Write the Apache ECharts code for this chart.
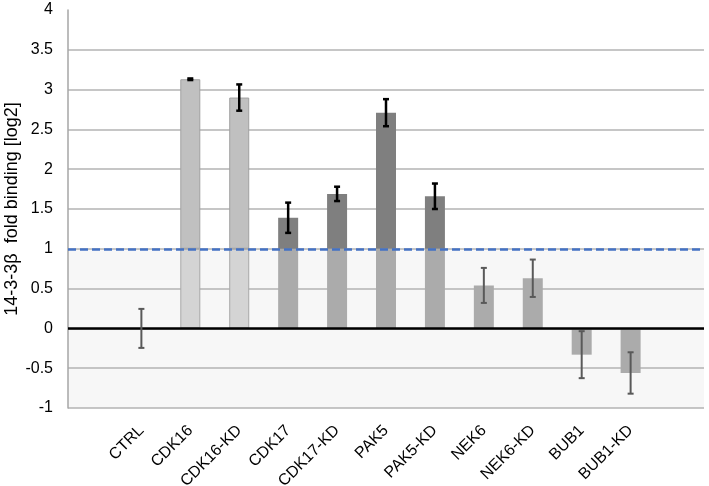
<!DOCTYPE html>
<html>
<head>
<meta charset="utf-8">
<script src="https://cdn.jsdelivr.net/npm/echarts@6/dist/echarts.min.js"></script>
<style>
html,body{margin:0;padding:0;background:#fff;}
#chart{width:709px;height:486px;}
</style>
</head>
<body>
<div id="chart"></div>
<script>
// ---- data ----
var categories = ['', 'CTRL', 'CDK16', 'CDK16-KD', 'CDK17', 'CDK17-KD', 'PAK5', 'PAK5-KD', 'NEK6', 'NEK6-KD', 'BUB1', 'BUB1-KD', ''];
var values = [null, 0, 3.13, 2.90, 1.39, 1.69, 2.71, 1.66, 0.54, 0.63, -0.33, -0.56, null];
var errors = [null, 0.245, 0.01, 0.165, 0.19, 0.09, 0.17, 0.16, 0.22, 0.235, 0.295, 0.26, null];
var threshold = 1;
var yTicks = [-1, -0.5, 0, 0.5, 1, 1.5, 2, 2.5, 3, 3.5, 4];

// ---- derived ----
var lightSet = {'CDK16': true, 'CDK16-KD': true};
var lowerPart = values.map(function (v) { return v == null ? null : (v > threshold ? threshold : v); });
var upperPart = values.map(function (v) { return v == null ? null : (v > threshold ? v - threshold : 0); });

function lowerItem(v, i) {
  if (v == null) return null;
  var light = lightSet[categories[i]];
  return { value: v, itemStyle: light ? { color: '#d4d4d4', borderColor: '#a8a8a8', borderWidth: 1 } : { color: '#ababab' } };
}
function upperItem(v, i) {
  if (v == null) return null;
  var light = lightSet[categories[i]];
  return { value: v, itemStyle: light ? { color: '#c0c0c0', borderColor: '#a0a0a0', borderWidth: 1 } : { color: '#7f7f7f' } };
}

var errData = [];
values.forEach(function (v, i) {
  if (v == null || errors[i] == null) return;
  errData.push([i, v - errors[i], v + errors[i], v > threshold ? 1 : 0]);
});

var chart = echarts.init(document.getElementById('chart'), null, { renderer: 'canvas' });

var splitLineColors = yTicks.map(function (t) { return t === 4 ? 'rgba(0,0,0,0)' : '#b3b3b3'; });
var splitAreaColors = yTicks.slice(0, -1).map(function (t) { return t < threshold ? '#f7f7f7' : '#ffffff'; });

var option = {
  animation: false,
  backgroundColor: '#ffffff',
  grid: { left: 68, right: 5, top: 10, bottom: 78, containLabel: false, outerBoundsMode: 'none' },
  xAxis: {
    type: 'category',
    data: categories,
    boundaryGap: true,
    axisLine: { show: false },
    axisTick: { show: false },
    axisLabel: {
      rotate: 45,
      interval: 0,
      margin: 20,
      color: '#000',
      fontFamily: 'Liberation Sans, Arial, sans-serif',
      fontSize: 16
    },
    splitLine: { show: false }
  },
  yAxis: {
    type: 'value',
    min: -1,
    max: 4,
    interval: 0.5,
    name: '14-3-3\u03B2  fold binding [log2]',
    nameLocation: 'middle',
    nameGap: 47,
    nameMoveOverlap: false,
    nameTextStyle: { fontFamily: 'Liberation Sans, Arial, sans-serif', fontSize: 18, color: '#000' },
    axisLine: { show: true, lineStyle: { color: '#a6a6a6', width: 1.5 } },
    axisTick: { show: false },
    axisLabel: {
      margin: 15,
      color: '#000',
      fontFamily: 'Liberation Sans, Arial, sans-serif',
      fontSize: 16
    },
    splitLine: { show: true, lineStyle: { color: splitLineColors, width: 1.5 } },
    splitArea: { show: true, areaStyle: { color: splitAreaColors } }
  },
  series: [
    {
      type: 'bar',
      name: 'lower',
      stack: 'v',
      barWidth: 20,
      data: lowerPart.map(lowerItem),
      markLine: {
        silent: true,
        symbol: 'none',
        label: { show: false },
        data: [
          { yAxis: 0, lineStyle: { color: '#000', width: 2.5, type: 'solid' } },
          { yAxis: threshold, lineStyle: { color: '#4472c4', width: 2.5, type: [8, 4] } }
        ]
      }
    },
    {
      type: 'bar',
      name: 'upper',
      stack: 'v',
      barWidth: 20,
      data: upperPart.map(upperItem)
    },
    {
      type: 'custom',
      name: 'err',
      z: 5,
      data: errData,
      renderItem: function (params, api) {
        var x = api.value(0);
        var lo = api.coord([x, api.value(1)]);
        var hi = api.coord([x, api.value(2)]);
        var dark = api.value(3) === 1;
        var col = dark ? '#000000' : '#595959';
        var w = dark ? 2.5 : 2;
        var cap = 3;
        var style = { stroke: col, lineWidth: w };
        return {
          type: 'group',
          children: [
            { type: 'line', shape: { x1: hi[0], y1: hi[1], x2: lo[0], y2: lo[1] }, style: style },
            { type: 'line', shape: { x1: hi[0] - cap, y1: hi[1], x2: hi[0] + cap, y2: hi[1] }, style: style },
            { type: 'line', shape: { x1: lo[0] - cap, y1: lo[1], x2: lo[0] + cap, y2: lo[1] }, style: style }
          ]
        };
      }
    }
  ]
};
chart.setOption(option);
</script>
</body>
</html>
